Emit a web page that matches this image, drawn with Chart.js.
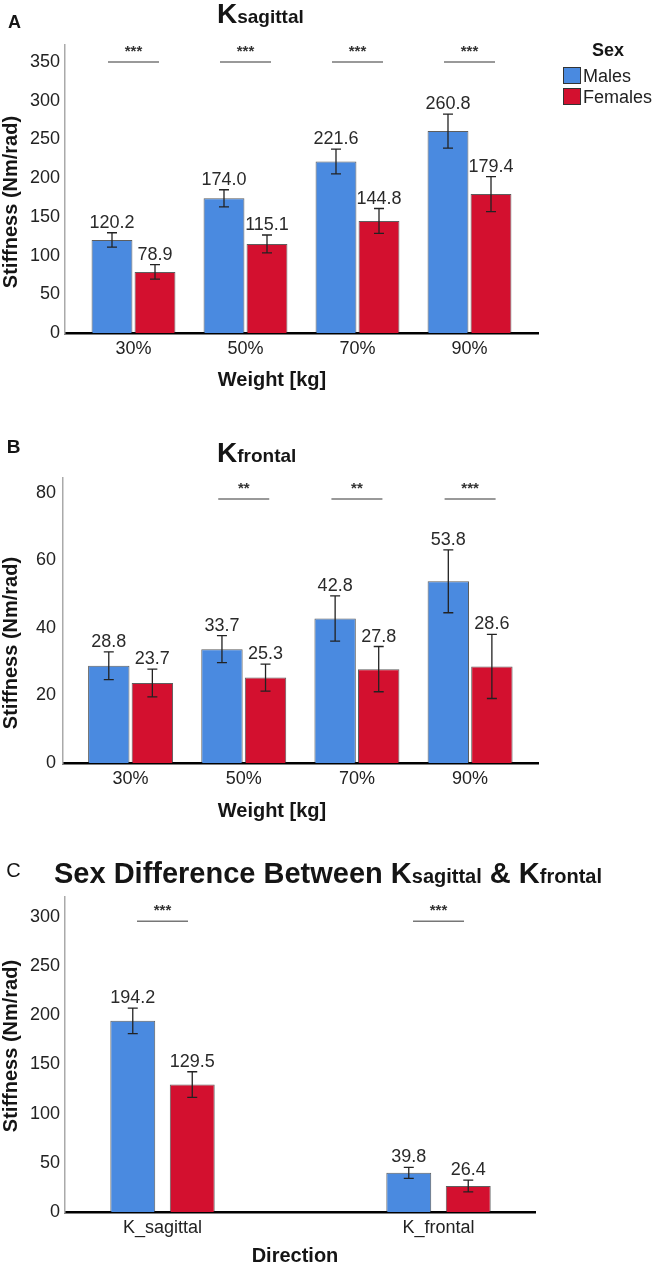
<!DOCTYPE html>
<html>
<head>
<meta charset="utf-8">
<script src="https://cdn.jsdelivr.net/npm/chart.js@4.4.1/dist/chart.umd.min.js"></script>
<style>
body { margin: 0; background: #fff; font-family: "Liberation Sans", Arial, sans-serif; color: #151515; }
#page { position: relative; width: 656px; height: 1264px; overflow: hidden; background: #fff; }
canvas { position: absolute; left: 0; }
.c { position: absolute; line-height: 1; white-space: nowrap; transform: translate(-50%, -50%); }
.yt { position: absolute; line-height: 1; white-space: nowrap; font-weight: bold; font-size: 20px; transform: translate(-50%, -50%) rotate(-90deg); }
.xt { font-weight: bold; font-size: 20px; }
.title { position: absolute; white-space: nowrap; font-weight: bold; }
.title sub { vertical-align: baseline; }
.box { position: absolute; width: 16px; height: 15px; border: 1px solid #333; }
.leg { position: absolute; line-height: 1; font-size: 18px; transform: translateY(-50%); white-space: nowrap; color: #222; }
</style>
</head>
<body>
<div id="page">
  <canvas id="chartA" width="656" height="400" style="top:0"></canvas>
  <canvas id="chartB" width="656" height="430" style="top:400px"></canvas>
  <canvas id="chartC" width="656" height="434" style="top:830px"></canvas>

  <div class="c" style="left:14.5px; top:21.5px; font-weight:bold; font-size:18px">A</div>
  <div class="title" style="left:217px; top:-2px; font-size:28px; line-height:32px">K<sub style="font-size:19px">sagittal</sub></div>
  <div class="c" style="left:608px; top:50px; font-weight:bold; font-size:18px">Sex</div>
  <div class="box" style="left:563px; top:67px; background:#4a8ae0"></div>
  <div class="leg" style="left:583px; top:76px">Males</div>
  <div class="box" style="left:563px; top:88px; background:#d3102f"></div>
  <div class="leg" style="left:583px; top:97px">Females</div>
  <div class="yt" style="left:10px; top:202px">Stiffness (Nm/rad)</div>
  <div class="c xt" style="left:272px; top:379px">Weight [kg]</div>

  <div class="c" style="left:13.5px; top:445.5px; font-weight:bold; font-size:19px">B</div>
  <div class="title" style="left:217px; top:437px; font-size:28px; line-height:32px">K<sub style="font-size:19px">frontal</sub></div>
  <div class="yt" style="left:10px; top:643px">Stiffness (Nm/rad)</div>
  <div class="c xt" style="left:272px; top:810px">Weight [kg]</div>

  <div class="c" style="left:13.5px; top:869.5px; font-size:20px">C</div>
  <div class="title" style="left:0; width:656px; text-align:center; top:856px; font-size:29px; line-height:34px">Sex Difference Between K<sub style="font-size:20px">sagittal</sub> &amp; K<sub style="font-size:20px">frontal</sub></div>
  <div class="yt" style="left:10px; top:1046px">Stiffness (Nm/rad)</div>
  <div class="c xt" style="left:295px; top:1255px">Direction</div>
</div>
<script>
// panel A: sagittal stiffness by load
const weightCats = ['30%', '50%', '70%', '90%'];
const sagMales = [120.2, 174.0, 221.6, 260.8];
const sagFemales = [78.9, 115.1, 144.8, 179.4];
const sagMalesErr = [9.3, 11, 16, 22];
const sagFemalesErr = [9.3, 11.5, 16, 22.5];
const sagSig = ['***', '***', '***', '***'];
const sagTicks = [0, 50, 100, 150, 200, 250, 300, 350];

// panel B: frontal stiffness by load
const frontMales = [28.8, 33.7, 42.8, 53.8];
const frontFemales = [23.7, 25.3, 27.8, 28.6];
const frontMalesErr = [4.1, 4.0, 6.7, 9.3];
const frontFemalesErr = [4.1, 4.0, 6.7, 9.5];
const frontSig = ['', '**', '**', '***'];
const frontTicks = [0, 20, 40, 60, 80];

// panel C: by direction
const dirCats = ['K_sagittal', 'K_frontal'];
const dirMales = [194.2, 39.8];
const dirFemales = [129.5, 26.4];
const dirMalesErr = [13, 5.6];
const dirFemalesErr = [13, 6];
const dirSig = ['***', '***'];
const dirTicks = [0, 50, 100, 150, 200, 250, 300];

const blue = '#4a8ae0';
const red = '#d3102f';
const font = '"Liberation Sans", Arial, sans-serif';

const extras = {
    id: 'extras',
    afterDatasetsDraw(chart, args, opts) {
        const { ctx, scales: { x, y } } = chart;
        ctx.save();
        chart.data.datasets.forEach((ds, di) => {
            chart.getDatasetMeta(di).data.forEach((bar, i) => {
                const v = ds.data[i].y;
                const e = ds.errors[i];
                const top = y.getPixelForValue(v + e);
                const bot = y.getPixelForValue(v - e);
                ctx.strokeStyle = '#222';
                ctx.lineWidth = 1.3;
                ctx.beginPath();
                ctx.moveTo(bar.x, top); ctx.lineTo(bar.x, bot);
                ctx.moveTo(bar.x - 5, top); ctx.lineTo(bar.x + 5, top);
                ctx.moveTo(bar.x - 5, bot); ctx.lineTo(bar.x + 5, bot);
                ctx.stroke();
                ctx.fillStyle = '#2a2a2a';
                ctx.font = '18px ' + font;
                ctx.textAlign = 'center';
                ctx.textBaseline = 'alphabetic';
                ctx.fillText(v.toFixed(1), bar.x, top - 5);
            });
        });
        opts.labels.forEach((s, i) => {
            if (!s) return;
            const cx = x.getPixelForValue(i);
            const ly = y.getPixelForValue(opts.level);
            ctx.strokeStyle = '#777';
            ctx.lineWidth = 1.5;
            ctx.beginPath();
            ctx.moveTo(cx - 25.5, ly); ctx.lineTo(cx + 25.5, ly);
            ctx.stroke();
            ctx.fillStyle = '#333';
            ctx.font = 'bold 15px ' + font;
            ctx.textAlign = 'center';
            ctx.fillText(s, cx, ly - 6);
        });
        ctx.restore();
    }
};

function drawPanel(id, cats, males, females, malesErr, femalesErr, sig, yTicks, p) {
    const ds = (label, vals, errs, color) => ({
        label: label,
        data: vals.map((v, i) => ({ x: i, y: v })),
        errors: errs,
        backgroundColor: color,
        borderColor: 'rgba(40,40,40,0.75)',
        borderWidth: 1,
        categoryPercentage: p.cp,
        barPercentage: p.bp
    });
    return new Chart(document.getElementById(id), {
        type: 'bar',
        data: {
            datasets: [
                ds('Males', males, malesErr, blue),
                ds('Females', females, femalesErr, red)
            ]
        },
        options: {
            responsive: false,
            animation: false,
            layout: { padding: { top: p.top, right: p.right, left: 0, bottom: 0 } },
            plugins: {
                legend: { display: false },
                tooltip: { enabled: false },
                extras: { level: p.sigLevel, labels: sig }
            },
            scales: {
                x: {
                    type: 'linear',
                    min: p.xMin,
                    max: p.xMax,
                    offset: false,
                    grid: { display: false, drawTicks: false, offset: false },
                    border: { display: true, color: '#000', width: 2.5 },
                    ticks: {
                        color: '#222',
                        font: { family: font, size: 18 },
                        padding: 5,
                        maxRotation: 0,
                        autoSkip: false,
                        callback: (v) => cats[v]
                    },
                    afterBuildTicks: (s) => { s.ticks = cats.map((c, i) => ({ value: i })); },
                    afterFit: (s) => { s.height = p.xH; }
                },
                y: {
                    min: 0,
                    max: p.yMax,
                    grid: { display: false, drawTicks: false },
                    border: { display: true, color: '#aaa', width: 1.5 },
                    ticks: {
                        color: '#222',
                        font: { family: font, size: 18 },
                        padding: p.yPad
                    },
                    afterBuildTicks: (s) => { s.ticks = yTicks.map(v => ({ value: v })); },
                    afterFit: (s) => { s.width = p.yW; }
                }
            }
        },
        plugins: [extras]
    });
}

drawPanel('chartA', weightCats, sagMales, sagFemales, sagMalesErr, sagFemalesErr, sagSig, sagTicks, {
    top: 45, right: 118, xH: 67, yW: 65, yMax: 372, yPad: 5,
    xMin: -0.6116, xMax: 3.6116, cp: 0.768, bp: 0.95, sigLevel: 350
});
drawPanel('chartB', weightCats, frontMales, frontFemales, frontMalesErr, frontFemalesErr, frontSig, frontTicks, {
    top: 78, right: 118, xH: 67, yW: 63, yMax: 84.4, yPad: 7,
    xMin: -0.597, xMax: 3.60, cp: 0.77, bp: 0.95, sigLevel: 78.2
});
drawPanel('chartC', dirCats, dirMales, dirFemales, dirMalesErr, dirFemalesErr, dirSig, dirTicks, {
    top: 67, right: 121, xH: 52, yW: 65, yMax: 320, yPad: 5,
    xMin: -0.3533, xMax: 1.3496, cp: 0.431, bp: 0.755, sigLevel: 295.4
});
</script>
</body>
</html>
